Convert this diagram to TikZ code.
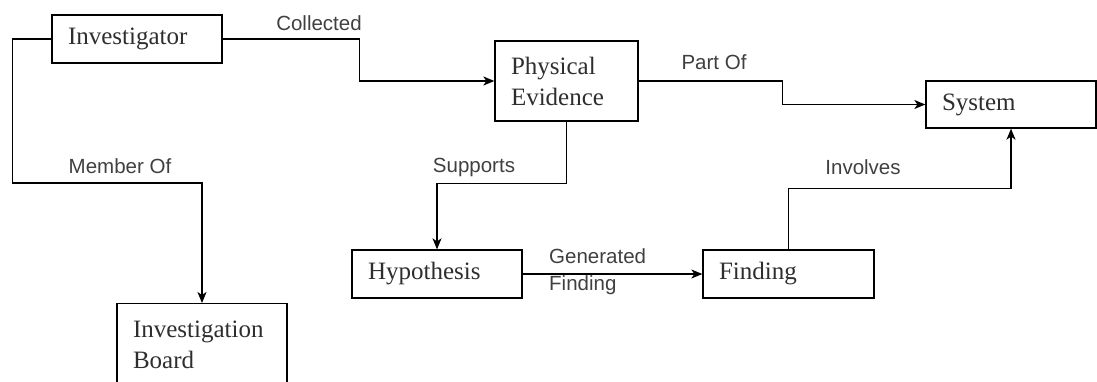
\documentclass[tikz,border=0pt]{standalone}
\usepackage{fontspec}
\setmainfont{Liberation Serif}
\newfontfamily\labelfont{Liberation Sans}
\usepackage{tikz}
\usetikzlibrary{arrows, arrows.meta, positioning}
\tikzset{>={Stealth[length=11pt, width=9pt, inset=3pt]}}
\definecolor{boxtext}{HTML}{2E2E2E}
\definecolor{linktext}{HTML}{404040}
\tikzset{
	entity/.style={draw, rectangle, line width=1.3pt, inner xsep=16pt, inner ysep=0pt, align=left, text=boxtext, font=\fontsize{25}{31}\selectfont},
	relation/.style={text=linktext, font=\labelfont\fontsize{20.5}{27}\selectfont, inner sep=0pt},
	flow/.style={->, line width=1.3pt}
}

\begin{document}
\begin{tikzpicture}[x=1pt, y=-1pt]
	\useasboundingbox (0,0) rectangle (1097,381);
	\clip (0,0) rectangle (1097,381);

	\node[entity, minimum width=170pt, minimum height=48pt, text width=138pt](inv) at (137,39){Investigator};
	\node[entity, minimum width=143pt, minimum height=80pt, text width=111pt](phys) at (566.5,81){Physical\\Evidence};
	\node[entity, minimum width=170pt, minimum height=47pt, text width=138pt](sys) at (1011,104.5){System};
	\node[entity, minimum width=170pt, minimum height=48pt, text width=138pt](hyp) at (437,274){Hypothesis};
	\node[entity, minimum width=171pt, minimum height=48pt, text width=139pt](find) at (788.5,274){Finding};
	% box runs off the bottom edge, so pad it with an empty line
	\node[entity, minimum width=170pt, minimum height=113pt, text width=138pt, anchor=north](board) at (202,303){Investigation\\Board\\\mbox{}};

	\draw[flow](inv.east)--++(137,0)|-(phys.west);
	\draw[flow](inv.west)--++(-39,0)--++(0,144)-|(board.north);
	\draw[flow](phys.east)--++(144,0)|-(sys.west);
	\draw[flow](phys.south)--++(0,62)-|(hyp.north);
	\draw[flow](hyp.east)--(find.west);
	\draw[flow](find.north)--++(0,-61)-|(sys.south);

	\node[relation](collected) at (319,23){Collected};
	\node[relation](memberof) at (120,166){Member Of};
	\node[relation](partof) at (714,62){Part Of};
	\node[relation](supports) at (474,167){Supports};
	\node[relation](involves) at (863,167){Involves};
	\node[relation, align=left, anchor=west](generated) at (549,271.5){Generated\\Finding};

\end{tikzpicture}
\end{document}
